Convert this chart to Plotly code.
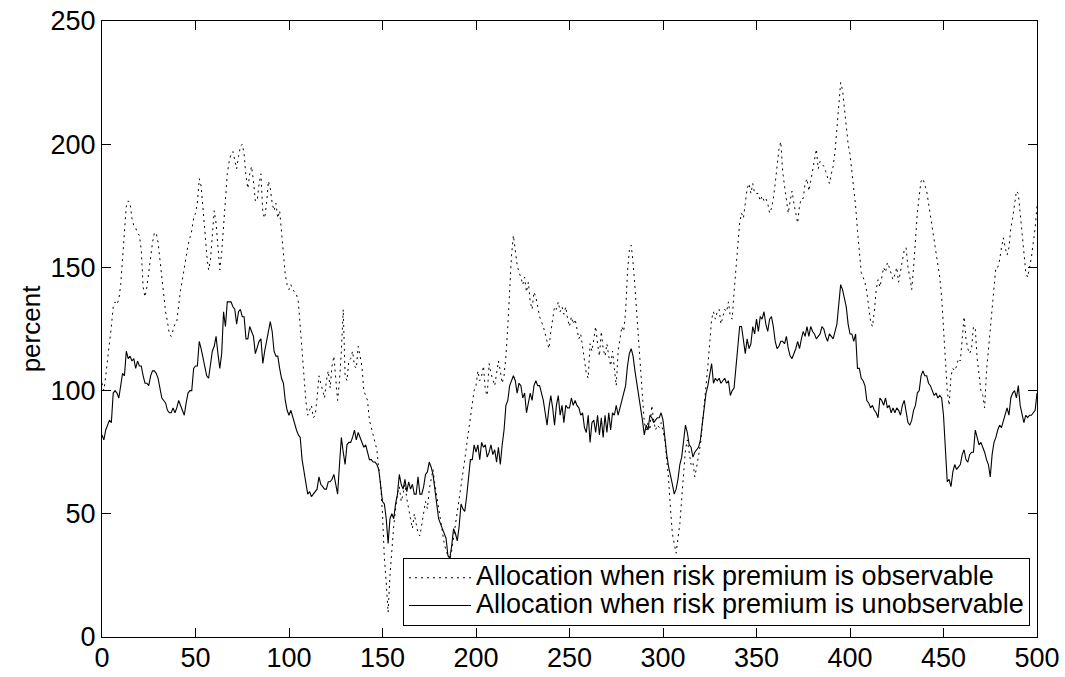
import plotly.graph_objects as go

# time index (categories)
t = list(range(0, 501))

# Allocation when risk premium is unobservable (solid)
unobservable = [
    82, 80, 84, 86, 88, 87, 99, 100, 99, 97,
    102, 107, 106, 116, 113, 114, 112, 113, 109, 112,
    110, 110, 106, 103, 103, 102, 106, 108, 108, 107,
    105, 100, 97, 96, 95, 92, 91, 91, 93, 91,
    93, 96, 94, 92, 90, 95, 99, 100, 100, 109,
    110, 110, 120, 117, 113, 109, 106, 105, 110, 116,
    118, 122, 115, 109, 115, 132, 126, 136, 136, 136,
    134, 133, 127, 132, 133, 130, 130, 121, 121, 126,
    124, 122, 115, 118, 120, 121, 111, 116, 120, 125,
    128, 124, 116, 114, 114, 109, 105, 103, 96, 92,
    90, 92, 89, 86, 84, 82, 81, 72, 67, 63,
    58, 59, 57, 58, 59, 60, 65, 62, 61, 60,
    60, 63, 63, 64, 66, 61, 58, 70, 81, 75,
    70, 78, 79, 79, 81, 84, 80, 83, 81, 79,
    77, 78, 75, 72, 72, 71, 71, 70, 68, 62,
    55, 54, 48, 38, 48, 50, 48, 54, 58, 66,
    62, 60, 64, 59, 63, 60, 62, 58, 58, 65,
    58, 58, 61, 66, 67, 71, 69, 66, 60, 53,
    48, 46, 44, 42, 40, 33, 32, 37, 44, 42,
    39, 45, 54, 52, 51, 57, 65, 72, 72, 78,
    75, 78, 72, 79, 77, 78, 73, 75, 78, 74,
    76, 71, 77, 70, 78, 84, 94, 96, 102, 104,
    106, 104, 99, 103, 102, 97, 99, 91, 96, 99,
    96, 102, 104, 102, 102, 99, 96, 91, 86, 93,
    98, 93, 86, 94, 98, 90, 94, 87, 94, 93,
    93, 97, 94, 96, 94, 93, 90, 91, 85, 83,
    90, 79, 87, 88, 83, 90, 82, 89, 81, 90,
    83, 91, 84, 91, 90, 94, 90, 93, 96, 99,
    102, 110, 115, 117, 114, 108, 103, 100, 94, 88,
    82, 86, 84, 90, 89, 87, 88, 89, 89, 91,
    88, 80, 74, 69, 66, 62, 58, 60, 64, 70,
    73, 79, 86, 83, 78, 77, 73, 75, 76, 77,
    80, 86, 92, 99, 102, 106, 111, 103, 105, 104,
    105, 103, 104, 105, 103, 104, 98, 100, 101, 110,
    118, 126, 126, 121, 115, 121, 117, 119, 126, 123,
    129, 124, 130, 129, 132, 127, 124, 129, 130, 126,
    120, 117, 118, 120, 120, 119, 122, 117, 114, 113,
    115, 117, 120, 117, 121, 124, 122, 126, 122, 126,
    124, 123, 121, 122, 123, 126, 125, 122, 120, 123,
    122, 121, 124, 127, 135, 143, 141, 138, 134, 127,
    123, 123, 120, 123, 109, 109, 105, 104, 102, 96,
    95, 93, 94, 92, 91, 89, 97, 96, 94, 97,
    93, 94, 91, 93, 91, 93, 92, 90, 94, 96,
    91, 87, 86, 88, 92, 94, 99, 100, 106, 108,
    106, 106, 103, 102, 100, 98, 99, 97, 98, 97,
    90, 74, 63, 64, 61, 67, 70, 68, 69, 70,
    74, 76, 72, 71, 74, 75, 75, 84, 81, 78,
    79, 77, 75, 72, 70, 65, 74, 79, 81, 84,
    86, 85, 88, 90, 93, 90, 97, 99, 100, 97,
    102, 94, 90, 87, 90, 89, 90, 90, 91, 92,
    99,
]

# Allocation when risk premium is observable (dotted)
observable = [
    103, 100, 106, 112, 118, 126, 134, 136, 135, 137,
    143, 155, 165, 175, 177, 176, 170, 167, 166, 164,
    163, 157, 142, 138, 142, 148, 155, 160, 164, 164,
    160, 153, 145, 138, 132, 128, 123, 122, 125, 127,
    128, 135, 141, 145, 150, 155, 159, 162, 165, 170,
    172, 176, 186, 183, 172, 165, 155, 149, 153, 165,
    173, 168, 158, 149, 156, 166, 178, 188, 193, 196,
    197, 193, 190, 195, 199, 200, 196, 187, 182, 188,
    191, 185, 177, 177, 184, 188, 172, 170, 176, 185,
    182, 176, 173, 176, 170, 173, 163, 153, 147, 143,
    141, 143, 141, 140, 139, 136, 126, 115, 103, 96,
    90, 92, 94, 89, 90, 97, 106, 103, 100, 97,
    104, 108, 101, 110, 114, 103, 96, 104, 116, 133,
    106, 104, 112, 113, 116, 110, 109, 118, 114, 110,
    100, 98, 96, 88, 85, 82, 80, 76, 68, 62,
    50, 32, 22, 10, 25, 36, 45, 52, 58, 61,
    55, 58, 62, 56, 51, 48, 44, 50, 46, 42,
    41, 46, 50, 55, 52, 60, 64, 68, 62, 57,
    51, 46, 42, 38, 35, 33, 31, 35, 40, 45,
    50, 55, 60, 66, 72, 78, 84, 90, 95, 100,
    102, 108, 104, 106, 110, 100, 98, 111, 107, 104,
    102, 107, 112, 108, 103, 106, 114, 126, 140, 155,
    163, 156, 151, 148, 146, 143, 146, 140, 144, 136,
    133, 140, 138, 134, 130, 128, 126, 123, 120, 117,
    124, 130, 134, 133, 136, 132, 134, 131, 134, 129,
    126, 130, 127, 129, 124, 121, 123, 117, 112, 107,
    105, 119, 116, 121, 126, 119, 114, 124, 117, 114,
    119, 114, 110, 116, 110, 102, 116, 121, 126, 124,
    132, 148, 157, 159, 152, 142, 131, 118, 106, 94,
    87, 84, 87, 84, 94, 88, 84, 86, 85, 87,
    84, 80, 72, 64, 52, 42, 38, 34, 40, 46,
    56, 66, 76, 80, 74, 70, 71, 65, 69, 73,
    78, 86, 93, 102, 110, 120, 129, 132, 129, 132,
    133, 127, 130, 133, 132, 136, 130, 129, 140, 150,
    160, 168, 172, 170, 176, 182, 184, 180, 184, 180,
    180, 180, 177, 179, 177, 178, 176, 172, 174, 178,
    184, 190, 198, 201, 189, 183, 177, 172, 177, 181,
    176, 171, 168, 175, 178, 178, 184, 186, 181, 185,
    189, 194, 198, 190, 193, 192, 191, 189, 186, 184,
    188, 191, 197, 207, 216, 225, 222, 214, 207, 200,
    196, 189, 183, 175, 165, 155, 148, 146, 144, 140,
    134, 128, 126, 132, 141, 145, 142, 146, 150, 148,
    152, 150, 147, 145, 147, 150, 144, 149, 153, 157,
    158, 150, 146, 141, 150, 162, 172, 179, 185, 186,
    183, 181, 176, 171, 166, 162, 157, 152, 146, 138,
    126, 112, 100, 94, 106, 109, 108, 110, 113, 112,
    120, 130, 121, 117, 115, 117, 126, 125, 113, 106,
    100, 98, 93, 108, 116, 124, 134, 143, 150, 150,
    153, 158, 162, 158, 155, 158, 166, 170, 175, 181,
    180, 172, 162, 156, 148, 146, 150, 154, 160, 166,
    175,
]

series_names = [
    "Allocation when risk premium is observable",
    "Allocation when risk premium is unobservable",
]

x_ticks = [0, 50, 100, 150, 200, 250, 300, 350, 400, 450, 500]
y_ticks = [0, 50, 100, 150, 200, 250]

FONT = "Liberation Sans, Arial, Helvetica, sans-serif"


def legend_label(text):
    # larger glyphs, compact legend rows (row height follows legend font size)
    return "<span style='font-size:27px'>" + text + "</span>"


fig = go.Figure()
fig.add_trace(go.Scatter(
    x=t, y=observable, mode="lines",
    name=legend_label(series_names[0]),
    line=dict(color="black", width=1, dash="2px,4px"),
))
fig.add_trace(go.Scatter(
    x=t, y=unobservable, mode="lines",
    name=legend_label(series_names[1]),
    line=dict(color="black", width=1.1),
))

axis_common = dict(
    showline=True, linecolor="black", linewidth=1, mirror="ticks",
    ticks="inside", ticklen=9, tickcolor="black", tickwidth=1,
    showgrid=False, zeroline=False, automargin=False,
    tickfont=dict(family=FONT, size=27, color="black"),
)

fig.update_xaxes(range=[0, 500], tickvals=x_ticks, ticklabelstandoff=-3, **axis_common)
fig.update_yaxes(range=[0, 250], tickvals=y_ticks, ticklabelstandoff=0,
                 title=dict(text="percent", font=dict(family=FONT, size=26, color="black"), standoff=2),
                 **axis_common)

fig.update_layout(
    width=1065, height=677,
    margin=dict(l=102, r=28, t=21, b=40),
    paper_bgcolor="white", plot_bgcolor="white",
    font=dict(family=FONT, color="black"),
    showlegend=True,
    legend=dict(
        x=0.9925, y=0.018, xanchor="right", yanchor="bottom",
        bgcolor="white", bordercolor="black", borderwidth=1,
        font=dict(family=FONT, size=19, color="black"),
        tracegroupgap=0, itemwidth=62,
    ),
)

fig.write_html(
    "out.html",
    config={"displayModeBar": False},
    post_script="document.body.style.margin='0';document.body.style.overflow='hidden';",
)
